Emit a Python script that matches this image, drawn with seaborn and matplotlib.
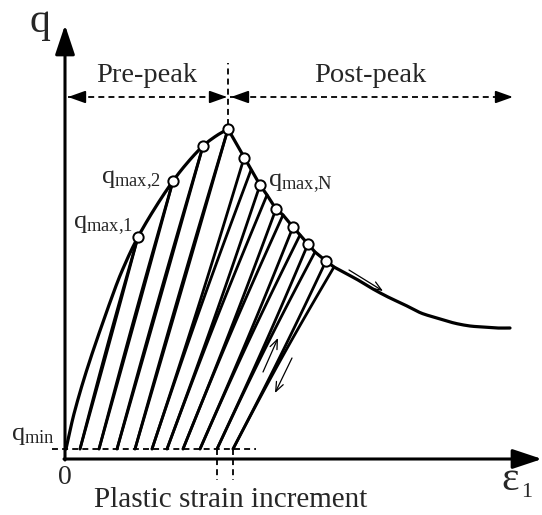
import matplotlib
matplotlib.use("Agg")
import matplotlib.pyplot as plt
import numpy as np
import pandas as pd
import seaborn as sns

# schematic cyclic loading curve, arbitrary units (axial strain eps_1, deviator stress q)
Q_MIN = 10

# pre-peak envelope (origin -> peak)
env_pre_eps = [1, 10, 25, 48, 60, 73, 90, 108, 123, 138, 151, 163]
env_pre_q = [10, 49, 99, 165, 195, 222, 251, 278, 297, 313, 323, 330]

# q_max of each cycle (open circles)
peak_eps = [73, 108, 138, 163, 179, 195, 211, 228, 243, 261]
peak_q = [222, 278, 313, 330, 301, 274, 250, 232, 215, 198]

# point where each reload branch meets the envelope again
reload_eps = [73, 108, 138, 163, 186, 202, 218, 235, 250, 269]
reload_q = [222, 278, 313, 330, 289, 264, 244, 224, 207, 192]

# strain at q_min after each unloading
base_eps = [15, 34, 52, 70, 87, 102, 118, 135, 152, 168]

# post-peak softening tail
tail_eps = [269, 280, 293, 308, 323, 340, 356, 372, 389, 405, 419, 432, 445]
tail_q = [192, 186, 179, 170, 162, 154, 146, 141, 136, 133, 132, 131, 131]

N_PRE = 4  # cycles up to and including the peak


def smooth(xs, ys, n=10):
    """Catmull-Rom curve through the given points (drawing only)."""
    p = np.column_stack([xs, ys]).astype(float)
    p = np.vstack([2 * p[0] - p[1], p, 2 * p[-1] - p[-2]])
    t = np.linspace(0, 1, n, endpoint=False)[:, None]
    out = []
    for k in range(1, len(p) - 2):
        p0, p1, p2, p3 = p[k - 1], p[k], p[k + 1], p[k + 2]
        out.append(0.5 * (2 * p1 + (-p0 + p2) * t
                          + (2 * p0 - 5 * p1 + 4 * p2 - p3) * t ** 2
                          + (-p0 + 3 * p1 - 3 * p2 + p3) * t ** 3))
    out.append(p[-2][None, :])
    out = np.vstack(out)
    return list(out[:, 0]), list(out[:, 1])


def bowed(p0, p1, bulge, n=40):
    """Curve from p0 to p1 bent sideways by `bulge` (positive = left of p0->p1)."""
    p0 = np.asarray(p0, float)
    p1 = np.asarray(p1, float)
    d = p1 - p0
    normal = np.array([-d[1], d[0]]) / np.hypot(*d)
    t = np.linspace(0, 1, n)
    pts = p0 + np.outer(t, d) + np.outer(bulge * np.sin(np.pi * t), normal)
    return pts[:, 0], pts[:, 1]


sns.set_style("white")
plt.rcParams["font.family"] = ["Liberation Serif", "DejaVu Serif"]
plt.rcParams["mathtext.fontset"] = "custom"
plt.rcParams["mathtext.rm"] = "Liberation Serif"
plt.rcParams["mathtext.it"] = "Liberation Serif:italic"

fig = plt.figure(figsize=(5.42, 5.15), dpi=100)
ax = fig.add_axes([0, 0, 1, 1])
ax.set_xlim(-65, 477)
ax.set_ylim(-56, 459)
ax.axis("off")

# envelope: smooth pre-peak, jagged post-peak, smooth softening tail
env_x, env_y = smooth(env_pre_eps, env_pre_q)
for i in range(N_PRE + 1, len(peak_eps)):
    env_x += [peak_eps[i], reload_eps[i]]
    env_y += [peak_q[i], reload_q[i]]
tx, ty = smooth(tail_eps, tail_q)
env_x += tx[1:]
env_y += ty[1:]
env = pd.DataFrame({"eps": env_x, "q": env_y})
sns.lineplot(data=env, x="eps", y="q", sort=False, color="black", lw=2.3, ax=ax)

# unload / reload loops
for i in range(len(peak_eps)):
    post = i >= N_PRE
    b_un, b_re = (-1.2, 1.6) if post else (-0.3, 0.9)
    ux, uy = bowed((base_eps[i], Q_MIN), (peak_eps[i], peak_q[i]), b_un)
    rx, ry = bowed((base_eps[i], Q_MIN), (reload_eps[i], reload_q[i]), b_re)
    ax.plot(ux, uy, color="black", lw=2.0, solid_capstyle="round")
    ax.plot(rx, ry, color="black", lw=2.0, solid_capstyle="round")

sns.scatterplot(x=peak_eps, y=peak_q, s=55, color="white", edgecolor="black",
                linewidth=1.4, zorder=5, ax=ax, legend=False)

# axes with arrows
axis_arrow = dict(arrowstyle="-|>,head_length=0.9,head_width=0.3", lw=2.2,
                  color="black", mutation_scale=20, shrinkA=0, shrinkB=0)
ax.annotate("", xy=(0, 434), xytext=(0, -1), arrowprops=axis_arrow)
ax.annotate("", xy=(477, 0), xytext=(-1, 0), arrowprops=axis_arrow)

# dashed guides
dash = dict(color="black", lw=1.3, ls=(0, (3.3, 2.3)))
ax.plot([3, 163], [362, 362], **dash)
ax.plot([165, 448], [362, 362], **dash)
ax.plot([163, 163], [334, 396], **dash)
ax.plot([-13, 191], [Q_MIN, Q_MIN], **dash)
for bx in base_eps[-2:]:
    ax.plot([bx, bx], [Q_MIN, -21], **dash)

head = dict(arrowstyle="-|>,head_length=0.7,head_width=0.25", lw=1.3,
            color="black", mutation_scale=15, shrinkA=0, shrinkB=0)
for tip, tail in [((3, 362), (15, 362)), ((162, 362), (150, 362)),
                  ((166, 362), (178, 362)), ((448, 362), (436, 362))]:
    ax.annotate("", xy=tip, xytext=tail, arrowprops=head)

# small direction arrows
small = dict(arrowstyle="->,head_length=0.45,head_width=0.18", lw=0.9,
             color="black", mutation_scale=15, shrinkA=0, shrinkB=0)
ax.annotate("", xy=(213, 121), xytext=(198, 87), arrowprops=small)
ax.annotate("", xy=(210, 66), xytext=(227, 101), arrowprops=small)
ax.annotate("", xy=(318, 168), xytext=(284, 189), arrowprops=small)

# labels
ax.text(-25, 427, "q", fontsize=30, ha="center", va="baseline")
ax.text(82, 377, "Pre-peak", fontsize=20.5, ha="center", va="baseline")
ax.text(305, 377, "Post-peak", fontsize=20.5, ha="center", va="baseline")
ax.text(68, 231, r"$\mathrm{q}_{\mathrm{max{,}1}}$", fontsize=19, ha="right", va="baseline")
ax.text(96, 276, r"$\mathrm{q}_{\mathrm{max{,}2}}$", fontsize=19, ha="right", va="baseline")
ax.text(203, 273, r"$\mathrm{q}_{\mathrm{max{,}N}}$", fontsize=19, ha="left", va="baseline")
ax.text(-10, 19, r"$\mathrm{q}_{\mathrm{min}}$", fontsize=19, ha="right", va="baseline")
ax.text(0, -18, "0", fontsize=20, ha="center", va="center")
ax.text(166, -48, "Plastic strain increment", fontsize=21, ha="center", va="baseline")
ax.text(436, -31, "ε", fontsize=30, ha="left", va="baseline")
ax.text(456, -38, "1", fontsize=16, ha="left", va="baseline")

fig.savefig("out.png", dpi=100)
